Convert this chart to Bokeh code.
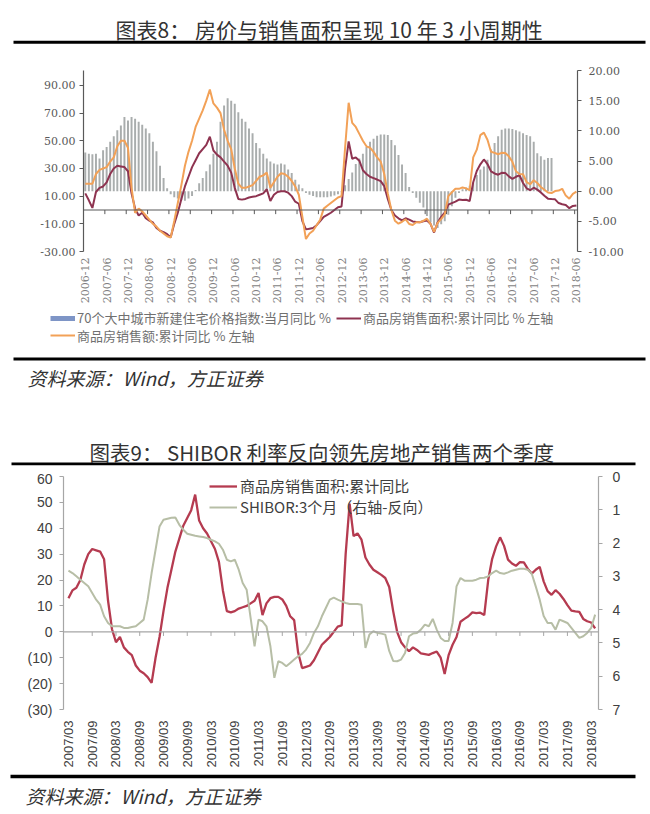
import math
import pandas as pd
from bokeh.plotting import figure
from bokeh.models import (Range1d, LinearAxis, FixedTicker, PrintfTickFormatter,
                          Span, Legend, LegendItem)
from bokeh.core.properties import value
from bokeh.embed import file_html
from bokeh.resources import INLINE

# ---------------- data ----------------
months1 = [d.strftime("%Y-%m") for d in pd.date_range("2006-12-01", "2018-06-01", freq="MS")]

# 商品房销售面积:累计同比 (%)  2006-12 .. 2018-06
area_yoy = [
    12, 7, 1.5, 13, 16, 17, 20, 26, 30, 32, 31.5, 31, 28,
    12, 1, -4, -2, -6, -7.7, -9, -13, -15, -16, -17.5, -19.7,
    -10, -2, 8, 17, 24, 31, 36, 41, 44, 47, 53, 43,
    40, 38, 35, 32, 27, 16, 8, 7.5, 8, 9, 9.5, 10,
    11, 12, 15, 6.5, 11, 13, 13.5, 13.5, 12.5, 10, 6, 4.5,
    -8, -14, -13.5, -13, -11, -8, -5, -3.5, -2, 0, 2, 2.5,
    30, 49.5, 37, 38, 35.6, 28.7, 26, 24, 23, 22, 20.8, 17.3,
    8, 0, -4, -6, -7.5, -6, -7, -8.3, -8.6, -8.9, -8.2, -7.6,
    -10, -16.3, -9, -5, -2, 3.9, 5, 6, 7.5, 7.2, 7.4, 6.5,
    20, 28.2, 33, 36.5, 33.2, 27.9, 26.4, 25.5, 26.9, 26.8, 24.3, 22.5,
    24, 25.1, 19.5, 15.7, 14.3, 16.1, 14.7, 12.7, 10.3, 8.2, 7.9, 7.7,
    5, 4.1, 3.6, 1.3, 2.9, 3.3,
]

# 商品房销售额:累计同比 (%)  2006-12 .. 2018-06
value_yoy = [
    19, 19, 19, 26, 29, 30, 31, 35, 38, 46, 50, 50, 45,
    16, -2, 1, -1, -4, -7, -10, -12, -15, -17, -19, -20,
    -8, 5, 18, 32, 42, 50, 60, 66, 72, 79, 87, 77,
    74, 70, 58, 50, 44, 30, 19, 16, 16, 17, 18, 21,
    24, 25, 27, 16, 20, 24, 26.5, 26, 24, 21, 17, 11,
    -5, -21, -17, -15, -11, -7, 1, 3, 5, 7, 9, 10,
    45, 77.5, 63, 60, 55, 50, 46, 45, 42, 38, 35, 26,
    12, 0, -7.7, -9.9, -8.5, -6.7, -10.1, -10.8, -8.9, -8.9, -7.8, -6.3,
    -10, -15.8, -9.3, -6.6, -3.1, 10, 12.8, 15.3, 15.3, 16.3, 15.6, 14.4,
    38, 43.6, 54.1, 55.9, 50.8, 42.1, 41.3, 40.3, 41.3, 41.2, 38.8, 34.8,
    28, 26, 25.8, 20.2, 18.6, 21.5, 19.5, 16.6, 14.6, 12.6, 12.2, 13.7,
    14, 15.3, 10.4, 8.2, 11.6, 13.2,
]

# 70个大中城市新建住宅价格指数:当月同比 (%)  2006-12 .. 2017-11
price_yoy = [
    6.4, 6.2, 6.1, 6.2, 5.4, 6.8, 7.3, 8.2, 9.1, 10.1, 10.9, 12.3,
    11.7, 12.3, 12.0, 11.5, 11.0, 10.4, 9.6, 8.2, 6.6, 4.2, 2.2, 0.5,
    -0.5, -1.0, -1.2, -1.5, -1.6, -1.2, -0.8, 0.2, 1.3, 2.2, 3.3, 4.4,
    6.2, 8.2, 11.5, 14.2, 15.4, 15.0, 14.5, 13.1, 12.0, 11.5, 10.4, 9.6,
    8.0, 7.1, 6.2, 5.4, 4.9, 4.6, 4.4, 4.6, 4.4, 3.6, 3.0, 1.9,
    1.1, 0.5, -0.3, -0.6, -0.8, -1.0, -1.0, -1.0, -1.0, -0.9, -0.7, -0.5,
    -0.2, 1.0, 2.0, 3.1, 4.5, 5.4, 6.2, 7.3, 8.2, 8.7, 9.2, 9.4,
    9.4, 9.3, 8.5, 7.6, 6.0, 4.4, 3.0, 0.7, -0.3, -1.1, -1.9, -2.7,
    -4.1, -5.2, -5.7, -6.1, -5.5, -5.0, -3.9, -2.5, -1.1, -0.3, 0.3, 0.6,
    0.9, 1.4, 2.7, 3.6, 4.1, 5.2, 6.9, 8.0, 9.1, 10.2, 10.4, 10.4,
    10.3, 10.1, 9.9, 9.6, 9.3, 9.1, 8.2, 6.3, 5.8, 5.2, 5.5, 5.5,
]

months2 = [d.strftime("%Y/%m") for d in pd.date_range("2007-03-01", "2018-04-01", freq="MS")]

# SHIBOR:3个月 (%)  2007-03 .. 2018-04
shibor3m = [
    2.83, 2.9, 3.0, 3.1, 3.2, 3.3, 3.5, 3.7, 3.85, 4.2, 4.4, 4.5,
    4.5, 4.5, 4.55, 4.55, 4.52, 4.5, 4.4, 4.3, 3.7, 2.9, 2.2, 1.5,
    1.3, 1.27, 1.24, 1.23, 1.45, 1.6, 1.72, 1.75, 1.78, 1.8, 1.82, 1.85,
    1.9, 1.95, 2.02, 2.2, 2.5, 2.55, 2.5, 2.8, 3.2, 3.4, 4.25, 5.1,
    4.3, 4.35, 4.5, 5.1, 6.05, 5.55, 5.6, 5.7, 5.6, 5.5, 5.4, 5.33,
    5.2, 5.0, 4.7, 4.5, 4.2, 3.95, 3.7, 3.64, 3.7, 3.75, 3.8, 3.83,
    3.83, 3.83, 3.85, 5.15, 4.75, 4.65, 4.7, 4.72, 4.75, 5.24, 5.54, 5.55,
    5.5, 5.3, 4.8, 4.72, 4.7, 4.6, 4.45, 4.5, 4.28, 4.6, 4.85, 4.94,
    4.94, 4.4, 3.3, 3.05, 3.13, 3.13, 3.13, 3.1, 3.05, 3.04, 3.0, 2.9,
    2.83, 2.9, 2.92, 2.88, 2.83, 2.8, 2.77, 2.77, 2.8, 2.92, 3.3, 3.7,
    4.19, 4.4, 4.4, 4.6, 4.3, 4.35, 4.4, 4.55, 4.7, 4.85, 4.8, 4.7,
    4.55, 4.15,
]

start2 = months1.index(months2[0].replace("/", "-"))
area_yoy2 = area_yoy[start2:start2 + len(months2)]

# ---------------- styling constants ----------------
W = 650
CJK = "Noto Sans CJK SC"
C_AREA1 = "#8e3350"
C_VALUE1 = "#f2a157"
C_BAR = "#a9adad"
C_LEG_BAR = "#7e95c6"
C_RED2 = "#b53b50"
C_GRAY2 = "#b7bea6"


def canvas(h):
    f = figure(width=W, height=h, x_range=Range1d(0, W), y_range=Range1d(0, h),
               x_axis_type=None, y_axis_type=None, toolbar_location=None,
               output_backend="svg", min_border=0, outline_line_color=None, title=None)
    return f


def rule(f, x0, x1, y0, y1):
    f.quad(left=[x0], right=[x1], bottom=[y0], top=[y1], fill_color="black", line_color=None)


def txt(f, x, y, s, size, align="left", style="normal", color="#333333"):
    f.text(x=[x], y=[y], text=[s], text_font=value(CJK), text_font_size=size,
           text_align=align, text_baseline="middle", text_font_style=style, text_color=color)


def style_legend(lg, size, color, gw, gh, sp):
    lg.glyph_width = gw
    lg.glyph_height = gh
    lg.label_height = gh
    lg.label_standoff = 2
    lg.spacing = sp
    lg.padding = 0
    lg.margin = 0
    lg.border_line_color = None
    lg.background_fill_alpha = 0
    lg.label_text_font = CJK
    lg.label_text_font_size = size
    lg.label_text_color = color


# ---------------- header 1 (page y 0..48) ----------------
h1 = canvas(48)
txt(h1, 331, 20, "图表8：  房价与销售面积呈现 10 年 3 小周期性", "21px", align="center")
rule(h1, 13, 645, 4.7, 7.7)

# ---------------- chart 1 (page y 48..306) ----------------
x1 = list(range(len(months1)))
p1 = figure(width=W, height=258, x_range=Range1d(-0.5, 138.3), y_range=Range1d(-30, 100.8),
            toolbar_location=None, output_backend="svg", title=None,
            min_border_left=83, min_border_right=73, min_border_top=22, min_border_bottom=54,
            outline_line_color=None)
p1.grid.visible = False
p1.extra_y_ranges = {"r": Range1d(-10, 20)}

p1.vbar(x=x1[:len(price_yoy)], top=price_yoy, bottom=0, width=0.55, y_range_name="r",
        fill_color=C_BAR, line_color=None)
p1.add_layout(Span(location=0, dimension="width", line_color="#595959", line_width=1.2))
xt1 = list(range(0, len(months1), 6))
p1.segment(x0=[t - 0.5 for t in xt1[1:]], y0=0, x1=[t - 0.5 for t in xt1[1:]], y1=-3,
           line_color="#595959", line_width=1)
p1.line(x1, area_yoy, line_color=C_AREA1, line_width=2)
p1.line(x1, value_yoy, line_color=C_VALUE1, line_width=2)

ly = p1.left[0]
ly.ticker = FixedTicker(ticks=[-30, -10, 10, 30, 50, 70, 90])
ly.formatter = PrintfTickFormatter(format="%.2f")
ry = LinearAxis(y_range_name="r", ticker=FixedTicker(ticks=[-10, -5, 0, 5, 10, 15, 20]),
                formatter=PrintfTickFormatter(format="%.2f"))
p1.add_layout(ry, "right")
for ax, so in ((ly, 4), (ry, 7)):
    ax.axis_line_color = "#595959"
    ax.axis_line_width = 1.2
    ax.major_tick_line_color = "#595959"
    ax.major_tick_in = 0
    ax.major_tick_out = 4
    ax.minor_tick_line_color = None
    ax.major_label_standoff = so
    ax.major_label_text_font = "DejaVu Serif"
    ax.major_label_text_font_size = "11px"
    ax.major_label_text_color = "#595959"

xa = p1.below[0]
xa.ticker = FixedTicker(ticks=xt1)
xa.major_label_overrides = {t: months1[t] for t in xt1}
xa.major_label_orientation = math.pi / 2
xa.axis_line_color = None
xa.major_tick_line_color = None
xa.minor_tick_line_color = None
xa.major_tick_in = 0
xa.major_tick_out = 0
xa.major_label_standoff = 6
xa.major_label_text_font = "DejaVu Serif"
xa.major_label_text_font_size = "11px"
xa.major_label_text_color = "#7f7f7f"

# ---------------- chart 1 legend (page y 306..350) ----------------
lf = canvas(44)
k_bar = lf.line(x1[:len(price_yoy)], price_yoy, line_color=C_LEG_BAR, line_width=5, visible=False)
k_area = lf.line(x1, area_yoy, line_color=C_AREA1, line_width=2, visible=False)
k_val = lf.line(x1, value_yoy, line_color=C_VALUE1, line_width=2, visible=False)
leg_a = Legend(items=[LegendItem(label="70个大中城市新建住宅价格指数:当月同比 %", renderers=[k_bar]),
                      LegendItem(label="商品房销售面积:累计同比 % 左轴", renderers=[k_area])],
               orientation="horizontal", location=(50, 23))
leg_b = Legend(items=[LegendItem(label="商品房销售额:累计同比 % 左轴", renderers=[k_val])],
               orientation="horizontal", location=(50, 5.5))
for lg in (leg_a, leg_b):
    style_legend(lg, "13px", "#707070", 25, 18, 5)
    lf.add_layout(lg)

# ---------------- middle block (page y 350..470) ----------------
mid = canvas(120)
rule(mid, 13, 645, 110, 113)
txt(mid, 27, 93, "资料来源：Wind，方正证券", "19px", style="italic")
txt(mid, 323.5, 18.5, "图表9：  SHIBOR 利率反向领先房地产销售两个季度", "20.5px", align="center")
rule(mid, 11, 635, 5.3, 8)

# ---------------- chart 2 (page y 470..773) ----------------
x2 = list(range(len(months2)))
p2 = figure(width=W, height=303, x_range=Range1d(-1.25, 133.85), y_range=Range1d(-30, 60),
            toolbar_location=None, output_backend="svg", title=None,
            min_border_left=63, min_border_right=52, min_border_top=6, min_border_bottom=64,
            outline_line_color=None)
p2.grid.visible = False
p2.extra_y_ranges = {"r": Range1d(7, 0)}

p2.add_layout(Span(location=0, dimension="width", line_color="#a6a6a6", line_width=1.3))
xt2 = list(range(0, len(months2), 6))
p2.segment(x0=xt2[1:], y0=0, x1=xt2[1:], y1=-1.6, line_color="#a6a6a6", line_width=1)
r_red = p2.line(x2, area_yoy2, line_color=C_RED2, line_width=2.3)
r_gray = p2.line(x2, shibor3m, line_color=C_GRAY2, line_width=2, y_range_name="r")

ly2 = p2.left[0]
ly2.ticker = FixedTicker(ticks=list(range(-30, 61, 10)))
ly2.major_label_overrides = {-30: "(30)", -20: "(20)", -10: "(10)"}
ry2 = LinearAxis(y_range_name="r", ticker=FixedTicker(ticks=list(range(0, 8))))
p2.add_layout(ry2, "right")
for ax, so in ((ly2, 7), (ry2, 10)):
    ax.axis_line_color = "#a6a6a6"
    ax.axis_line_width = 1.2
    ax.major_tick_line_color = "#a6a6a6"
    ax.major_tick_in = 0
    ax.major_tick_out = 4
    ax.minor_tick_line_color = None
    ax.major_label_standoff = so
    ax.major_label_text_font = "Liberation Sans"
    ax.major_label_text_font_size = "14px"
    ax.major_label_text_color = "#404040"

xa2 = p2.below[0]
xa2.ticker = FixedTicker(ticks=xt2)
xa2.major_label_overrides = {t: months2[t] for t in xt2}
xa2.major_label_orientation = math.pi / 2
xa2.axis_line_color = None
xa2.major_tick_line_color = None
xa2.minor_tick_line_color = None
xa2.major_tick_in = 0
xa2.major_tick_out = 0
xa2.major_label_standoff = 11
xa2.major_label_text_font = "Liberation Sans"
xa2.major_label_text_font_size = "13px"
xa2.major_label_text_color = "#404040"

leg2 = Legend(items=[LegendItem(label="商品房销售面积:累计同比", renderers=[r_red]),
                     LegendItem(label="SHIBOR:3个月（右轴-反向）", renderers=[r_gray])],
              location=(146, 192))
style_legend(leg2, "15px", "#404040", 28, 14, -4)
leg2.label_standoff = 3
p2.add_layout(leg2)

# ---------------- footer (page y 773..814) ----------------
foot = canvas(41)
rule(foot, 10, 635, 36.3, 39.7)
txt(foot, 25, 19, "资料来源：Wind，方正证券", "19px", style="italic")

roots = [h1, p1, lf, mid, p2, foot]
open("out.html", "w").write(file_html(roots, INLINE))
